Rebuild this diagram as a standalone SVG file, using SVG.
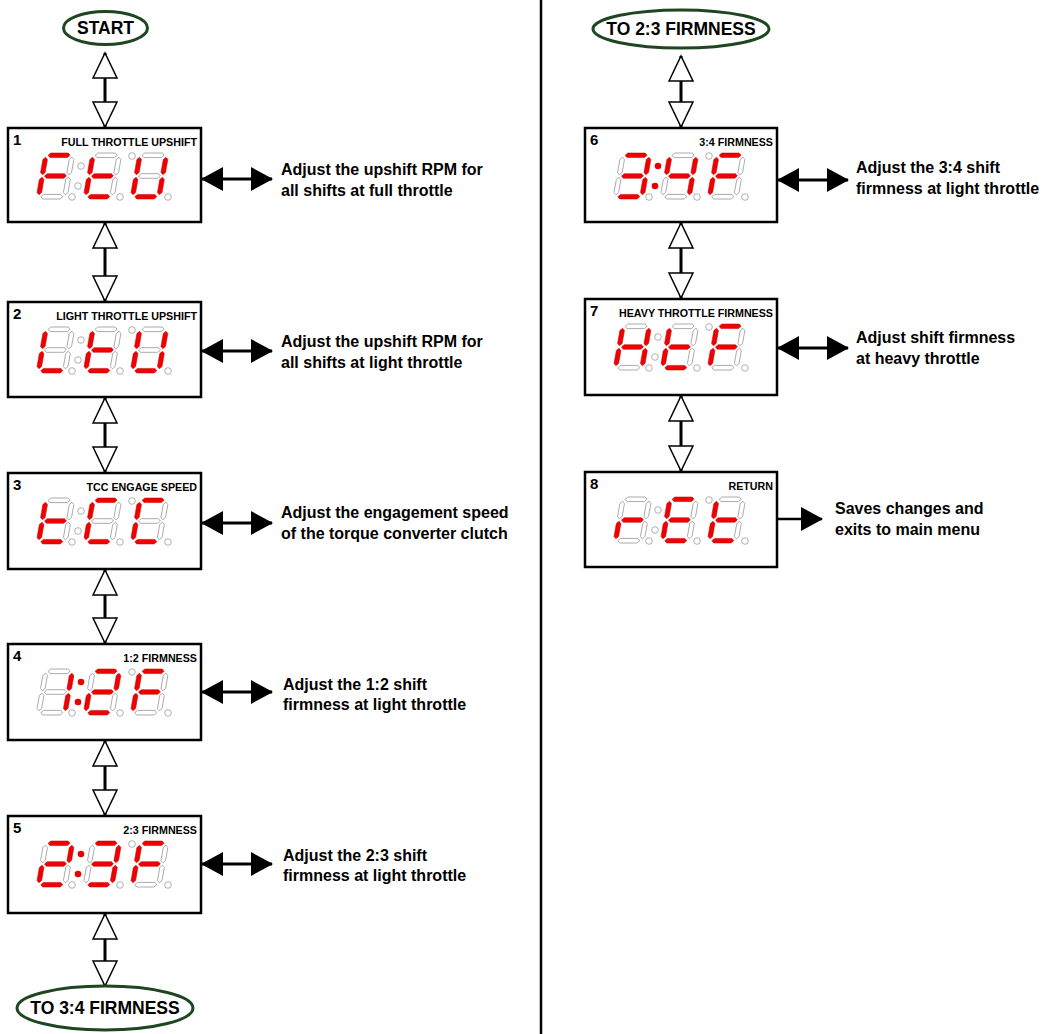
<svg xmlns="http://www.w3.org/2000/svg" xmlns:xlink="http://www.w3.org/1999/xlink" width="1045" height="1034" viewBox="0 0 1045 1034">
<style>
.bx{fill:#fff;stroke:#000;stroke-width:2.5}
.num{font-family:"Liberation Sans",Arial,sans-serif;font-weight:bold;font-size:15px;fill:#000}
.ttl{font-family:"Liberation Sans",Arial,sans-serif;font-weight:bold;font-size:10.7px;fill:#000;text-anchor:end}
.lbl{font-family:"Liberation Sans",Arial,sans-serif;font-weight:bold;font-size:16px;fill:#000}
.ov{fill:#fff;stroke:#1e4620;stroke-width:3}
.ovt{font-family:"Liberation Sans",Arial,sans-serif;font-weight:bold;font-size:17.5px;fill:#000;text-anchor:middle}
.on{fill:#f00000;stroke:#c00000;stroke-width:0.5}
.off{fill:#fff;stroke:#9a9a9a;stroke-width:0.8}
.don{fill:#e80000;stroke:none}
.doff{fill:#fff;stroke:#9a9a9a;stroke-width:0.8}
.vline{stroke:#000;stroke-width:3;fill:none;marker-start:url(#open);marker-end:url(#open)}
.hline{stroke:#000;stroke-width:3;fill:none;marker-start:url(#solid);marker-end:url(#solid)}
.hline1{stroke:#000;stroke-width:2.5;fill:none;marker-end:url(#solid)}
.div{stroke:#000;stroke-width:2.5}
</style>
<defs>
<marker id="open" viewBox="-2 -2 29 28" refX="25" refY="12" markerWidth="29" markerHeight="28" markerUnits="userSpaceOnUse" orient="auto-start-reverse">
<path d="M0,0 L25,12 L0,24 Z" fill="#fff" stroke="#000" stroke-width="1.5"/>
</marker>
<marker id="solid" viewBox="0 0 22 24" refX="21" refY="12" markerWidth="22" markerHeight="24" markerUnits="userSpaceOnUse" orient="auto-start-reverse">
<path d="M0,0 L22,12 L0,24 Z" fill="#000"/>
</marker>
<polygon id="sa" points="4.5,2.3 6.8,0 24.2,0 26.5,2.3 24.2,4.6 6.8,4.6"/>
<polygon id="sg" points="4.5,23 6.8,20.7 24.2,20.7 26.5,23 24.2,25.3 6.8,25.3"/>
<polygon id="sd" points="4.5,43.7 6.8,41.4 24.2,41.4 26.5,43.7 24.2,46 6.8,46"/>
<polygon id="sf" points="2.3,4.2 4.6,6.5 4.6,19.5 2.3,21.8 0,19.5 0,6.5"/>
<polygon id="se" points="2.3,24.2 4.6,26.5 4.6,39.5 2.3,41.8 0,39.5 0,26.5"/>
<polygon id="sb" points="28.7,4.2 31,6.5 31,19.5 28.7,21.8 26.4,19.5 26.4,6.5"/>
<polygon id="sc" points="28.7,24.2 31,26.5 31,39.5 28.7,41.8 26.4,39.5 26.4,26.5"/>
<g id="chF" transform="skewX(-10)"><use href="#sa" class="on"/><use href="#sb" class="off"/><use href="#sc" class="off"/><use href="#sd" class="off"/><use href="#se" class="on"/><use href="#sf" class="on"/><use href="#sg" class="on"/></g>
<g id="cht" transform="skewX(-10)"><use href="#sa" class="off"/><use href="#sb" class="off"/><use href="#sc" class="off"/><use href="#sd" class="on"/><use href="#se" class="on"/><use href="#sf" class="on"/><use href="#sg" class="on"/></g>
<g id="chU" transform="skewX(-10)"><use href="#sa" class="off"/><use href="#sb" class="on"/><use href="#sc" class="on"/><use href="#sd" class="on"/><use href="#se" class="on"/><use href="#sf" class="on"/><use href="#sg" class="off"/></g>
<g id="chL" transform="skewX(-10)"><use href="#sa" class="off"/><use href="#sb" class="off"/><use href="#sc" class="off"/><use href="#sd" class="on"/><use href="#se" class="on"/><use href="#sf" class="on"/><use href="#sg" class="off"/></g>
<g id="chC" transform="skewX(-10)"><use href="#sa" class="on"/><use href="#sb" class="off"/><use href="#sc" class="off"/><use href="#sd" class="on"/><use href="#se" class="on"/><use href="#sf" class="on"/><use href="#sg" class="off"/></g>
<g id="ch1" transform="skewX(-10)"><use href="#sa" class="off"/><use href="#sb" class="on"/><use href="#sc" class="on"/><use href="#sd" class="off"/><use href="#se" class="off"/><use href="#sf" class="off"/><use href="#sg" class="off"/></g>
<g id="ch2" transform="skewX(-10)"><use href="#sa" class="on"/><use href="#sb" class="on"/><use href="#sc" class="off"/><use href="#sd" class="on"/><use href="#se" class="on"/><use href="#sf" class="off"/><use href="#sg" class="on"/></g>
<g id="ch3" transform="skewX(-10)"><use href="#sa" class="on"/><use href="#sb" class="on"/><use href="#sc" class="on"/><use href="#sd" class="on"/><use href="#se" class="off"/><use href="#sf" class="off"/><use href="#sg" class="on"/></g>
<g id="ch4" transform="skewX(-10)"><use href="#sa" class="off"/><use href="#sb" class="on"/><use href="#sc" class="on"/><use href="#sd" class="off"/><use href="#se" class="off"/><use href="#sf" class="on"/><use href="#sg" class="on"/></g>
<g id="chH" transform="skewX(-10)"><use href="#sa" class="off"/><use href="#sb" class="on"/><use href="#sc" class="on"/><use href="#sd" class="off"/><use href="#se" class="on"/><use href="#sf" class="on"/><use href="#sg" class="on"/></g>
<g id="chr" transform="skewX(-10)"><use href="#sa" class="off"/><use href="#sb" class="off"/><use href="#sc" class="off"/><use href="#sd" class="off"/><use href="#se" class="on"/><use href="#sf" class="off"/><use href="#sg" class="on"/></g>
<g id="chE" transform="skewX(-10)"><use href="#sa" class="on"/><use href="#sb" class="off"/><use href="#sc" class="off"/><use href="#sd" class="on"/><use href="#se" class="on"/><use href="#sf" class="on"/><use href="#sg" class="on"/></g>
<g id="dots-off"><circle cx="73" cy="38" r="3.3" class="doff"/><circle cx="70" cy="58" r="3.3" class="doff"/><circle cx="124" cy="28" r="3.3" class="doff"/><circle cx="64" cy="69" r="3.3" class="doff"/><circle cx="112" cy="69" r="3.3" class="doff"/><circle cx="160" cy="69" r="3.3" class="doff"/></g>
<g id="dots-on"><circle cx="73" cy="38" r="3.3" class="don"/><circle cx="70" cy="58" r="3.3" class="don"/><circle cx="124" cy="28" r="3.3" class="doff"/><circle cx="64" cy="69" r="3.3" class="doff"/><circle cx="112" cy="69" r="3.3" class="doff"/><circle cx="160" cy="69" r="3.3" class="doff"/></g>
</defs>
<rect width="1045" height="1034" fill="#fff"/>
<line class="div" x1="541" y1="0" x2="541" y2="1034"/>

<g id="connectors">
<line class="vline" x1="105" y1="53" x2="105" y2="127"/>
<line class="vline" x1="105" y1="223" x2="105" y2="301"/>
<line class="vline" x1="105" y1="398" x2="105" y2="472"/>
<line class="vline" x1="105" y1="570" x2="105" y2="643"/>
<line class="vline" x1="105" y1="741" x2="105" y2="815"/>
<line class="vline" x1="105" y1="914" x2="105" y2="986"/>
<line class="vline" x1="681" y1="56" x2="681" y2="127"/>
<line class="vline" x1="681" y1="223" x2="681" y2="298"/>
<line class="vline" x1="681" y1="396" x2="681" y2="471"/>
<line class="hline" x1="202" y1="179" x2="272" y2="179"/>
<line class="hline" x1="202" y1="351" x2="272" y2="351"/>
<line class="hline" x1="202" y1="523" x2="272" y2="523"/>
<line class="hline" x1="202" y1="692" x2="272" y2="692"/>
<line class="hline" x1="202" y1="864" x2="272" y2="864"/>
<line class="hline" x1="778" y1="180" x2="848" y2="180"/>
<line class="hline" x1="778" y1="348" x2="848" y2="348"/>
<line class="hline1" x1="778" y1="519" x2="822" y2="519"/>
</g>

<g id="start"><ellipse class="ov" cx="105.5" cy="28" rx="42" ry="16.5"/><text class="ovt" x="105.5" y="34">START</text></g>
<g id="to34"><ellipse class="ov" cx="105" cy="1008" rx="88" ry="22"/><text class="ovt" x="105" y="1014">TO 3:4 FIRMNESS</text></g>
<g id="to23"><ellipse class="ov" cx="681" cy="29" rx="88" ry="19"/><text class="ovt" x="681" y="35">TO 2:3 FIRMNESS</text></g>

<g id="node1" transform="translate(8,128)">
<rect class="bx" width="193" height="94"/><text class="num" x="5" y="17">1</text><text class="ttl" x="189" y="18">FULL THROTTLE UPSHIFT</text>
<use href="#chF" x="36" y="25"/><use href="#cht" x="83" y="25"/><use href="#chU" x="130" y="25"/><use href="#dots-off"/>
</g>
<g id="label1"><text class="lbl" x="281" y="175">Adjust the upshift RPM for</text><text class="lbl" x="281" y="196">all shifts at full throttle</text></g>

<g id="node2" transform="translate(8,302)">
<rect class="bx" width="193" height="95"/><text class="num" x="5" y="17">2</text><text class="ttl" x="189" y="18">LIGHT THROTTLE UPSHIFT</text>
<use href="#chL" x="36" y="25"/><use href="#cht" x="83" y="25"/><use href="#chU" x="130" y="25"/><use href="#dots-off"/>
</g>
<g id="label2"><text class="lbl" x="281" y="347">Adjust the upshift RPM for</text><text class="lbl" x="281" y="368">all shifts at light throttle</text></g>

<g id="node3" transform="translate(8,473)">
<rect class="bx" width="193" height="96"/><text class="num" x="5" y="17">3</text><text class="ttl" x="189" y="18">TCC ENGAGE SPEED</text>
<use href="#cht" x="36" y="25"/><use href="#chC" x="83" y="25"/><use href="#chC" x="130" y="25"/><use href="#dots-off"/>
</g>
<g id="label3"><text class="lbl" x="281" y="518">Adjust the engagement speed</text><text class="lbl" x="281" y="539">of the torque converter clutch</text></g>

<g id="node4" transform="translate(8,644)">
<rect class="bx" width="193" height="96"/><text class="num" x="5" y="17">4</text><text class="ttl" x="189" y="18">1:2 FIRMNESS</text>
<use href="#ch1" x="36" y="25"/><use href="#ch2" x="83" y="25"/><use href="#chF" x="130" y="25"/><use href="#dots-on"/>
</g>
<g id="label4"><text class="lbl" x="283" y="690">Adjust the 1:2 shift</text><text class="lbl" x="283" y="710">firmness at light throttle</text></g>

<g id="node5" transform="translate(8,816)">
<rect class="bx" width="193" height="97"/><text class="num" x="5" y="17">5</text><text class="ttl" x="189" y="18">2:3 FIRMNESS</text>
<use href="#ch2" x="36" y="25"/><use href="#ch3" x="83" y="25"/><use href="#chF" x="130" y="25"/><use href="#dots-on"/>
</g>
<g id="label5"><text class="lbl" x="283" y="861">Adjust the 2:3 shift</text><text class="lbl" x="283" y="881">firmness at light throttle</text></g>

<g id="node6" transform="translate(585,128)">
<rect class="bx" width="192" height="94"/><text class="num" x="5" y="17">6</text><text class="ttl" x="188" y="18">3:4 FIRMNESS</text>
<use href="#ch3" x="36" y="25"/><use href="#ch4" x="83" y="25"/><use href="#chF" x="130" y="25"/><use href="#dots-on"/>
</g>
<g id="label6"><text class="lbl" x="856" y="173">Adjust the 3:4 shift</text><text class="lbl" x="856" y="194">firmness at light throttle</text></g>

<g id="node7" transform="translate(585,299)">
<rect class="bx" width="192" height="96"/><text class="num" x="5" y="17">7</text><text class="ttl" x="188" y="18">HEAVY THROTTLE FIRMNESS</text>
<use href="#chH" x="36" y="25"/><use href="#cht" x="83" y="25"/><use href="#chF" x="130" y="25"/><use href="#dots-off"/>
</g>
<g id="label7"><text class="lbl" x="856" y="343">Adjust shift firmness</text><text class="lbl" x="856" y="364">at heavy throttle</text></g>

<g id="node8" transform="translate(585,472)">
<rect class="bx" width="192" height="95"/><text class="num" x="5" y="17">8</text><text class="ttl" x="188" y="18">RETURN</text>
<use href="#chr" x="36" y="25"/><use href="#chE" x="83" y="25"/><use href="#cht" x="130" y="25"/><use href="#dots-off"/>
</g>
<g id="label8"><text class="lbl" x="835" y="514">Saves changes and</text><text class="lbl" x="835" y="535">exits to main menu</text></g>
</svg>
